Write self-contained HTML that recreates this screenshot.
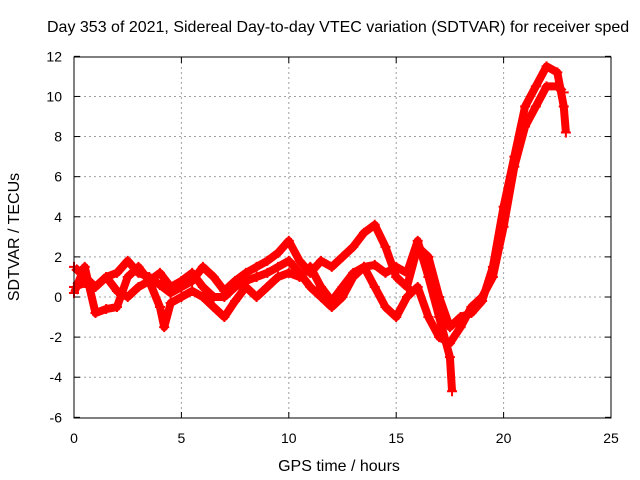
<!DOCTYPE html>
<html><head><meta charset="utf-8"><style>
body{margin:0;background:#fff;overflow:hidden}
svg{display:block;font-family:"Liberation Sans",sans-serif}
</style></head><body>
<svg id="c" width="640" height="480">
<text x="47" y="32" font-size="16">Day 353 of 2021, Sidereal Day-to-day VTEC variation (SDTVAR) for receiver sped</text>
<text x="339" y="471" font-size="16" text-anchor="middle">GPS time / hours</text>
<text transform="translate(19,237) rotate(-90)" font-size="16" text-anchor="middle">SDTVAR / TECUs</text>
<g id="grid"></g><g id="marks"></g>
<rect x="74" y="57" width="537" height="361" fill="none" stroke="#000" stroke-width="1"/>
</svg>
<script>
const xTicks=[0,5,10,15,20,25];
const yTicks=[-6,-4,-2,0,2,4,6,8,10,12];
const tA=[0,0.5,1,1.5,2,2.5,3,3.5,4,4.5,5,5.5,6,6.5,7,7.5,8,8.5,9,9.5,10,10.5,11,11.5,12,12.5,13,13.5,14,14.5,15,15.5,16,16.5,17,17.5,18,18.5,19,19.5,20,20.5,21,21.5,22,22.5,22.8,22.9];
const vA=[1.5,1.0,0.5,1.0,1.2,1.8,1.2,1.0,0.6,0.2,0.5,0.8,1.5,1.0,0.3,0.8,1.2,1.5,1.8,2.2,2.8,1.8,1.2,1.8,1.5,2.0,2.5,3.2,3.6,2.5,1.0,0.5,2.5,2.0,0,-1.5,-1.0,-0.8,-0.2,1.5,4.5,7,9.5,10.5,11.5,11.2,9.5,8.2];
const tB=[0,0.5,1,1.5,2,2.5,3,3.5,4,4.2,4.5,5,5.5,6,6.5,7,7.5,8,8.5,9,9.5,10,10.5,11,11.5,12,12.5,13,13.5,14,14.5,15,15.5,16,16.5,17,17.5,17.6];
const vB=[0.5,0.7,0.5,1.0,0.3,0.0,0.5,0.8,-0.5,-1.5,-0.3,0.0,0.3,0.0,-0.5,-1.0,-0.2,0.5,0.0,0.5,1.0,1.2,1.0,1.5,0.5,-0.2,0.5,1.2,1.5,1.6,1.2,1.5,1.2,2.8,1.0,-1.0,-3.0,-4.7];
const tC=[0,0.5,1,1.5,2,2.5,3,3.5,4,4.5,5,5.5,6,6.5,7,7.5,8,8.5,9,9.5,10,10.5,11,11.5,12,12.5,13,13.5,14,14.5,15,15.5,16,16.5,17,17.5,18,18.5,19,19.5,20,20.5,21,21.5,22,22.5,22.8];
const vC=[0.2,1.5,-0.8,-0.6,-0.5,1.0,1.5,0.8,1.2,0.5,0.8,1.2,0.5,0.0,0.0,0.5,0.8,1.0,1.2,1.5,1.8,1.2,0.5,0.0,-0.5,0,1.0,1.5,0.5,-0.5,-1.0,0.0,0.5,-1.0,-2.0,-2.3,-1.5,-0.5,0.0,1.0,3.5,6.5,8.5,9.5,10.5,10.5,10.2];
const X=h=>74+h*537/25, Y=v=>297-v*361/18;
const NS='http://www.w3.org/2000/svg';
const grid=document.getElementById('grid'),marks=document.getElementById('marks');
function mk(t,a,p){const e=document.createElementNS(NS,t);for(const k in a)e.setAttribute(k,a[k]);p.appendChild(e);return e;}
xTicks.forEach(t=>{const x=X(t);
 if(t>0&&t<25){const l=mk('line',{x1:x,y1:57,x2:x,y2:418,stroke:'#a0a0a0','stroke-dasharray':'2,3'},grid);
 
 }
 mk('line',{x1:x,y1:418,x2:x,y2:412,stroke:'#000'},grid);mk('line',{x1:x,y1:57,x2:x,y2:63,stroke:'#000'},grid);
 const tx=mk('text',{x:x,y:443,'font-size':14,'text-anchor':'middle'},grid);tx.textContent=t;
 
 });
yTicks.forEach(t=>{const y=Y(t);
 if(t>-6&&t<12){const l=mk('line',{x1:74,y1:y,x2:611,y2:y,stroke:'#a0a0a0','stroke-dasharray':'2,3'},grid);
 
 }
 mk('line',{x1:74,y1:y,x2:80,y2:y,stroke:'#000'},grid);mk('line',{x1:611,y1:y,x2:605,y2:y,stroke:'#000'},grid);
 const tx=mk('text',{x:62,y:y+5,'font-size':14,'text-anchor':'end'},grid);tx.textContent=t;
 
 });
[[tA,vA,'trace-a'],[tB,vB,'trace-b'],[tC,vC,'trace-c']].forEach(([ts,vs,n])=>{
 const pts=ts.map((t,i)=>X(t)+','+Y(vs[i])).join(' ');
 const pl=mk('polyline',{points:pts,fill:'none',stroke:'#ff0000','stroke-width':8,'stroke-linejoin':'round'},marks);
 
 
 ts.forEach((t,i)=>{const x=X(t),y=Y(vs[i]);
  const p=mk('path',{d:`M${x-5},${y}h10M${x},${y-5}v10`,stroke:'#ff0000','stroke-width':2},marks);
  
  });
});
</script>
</body></html>
